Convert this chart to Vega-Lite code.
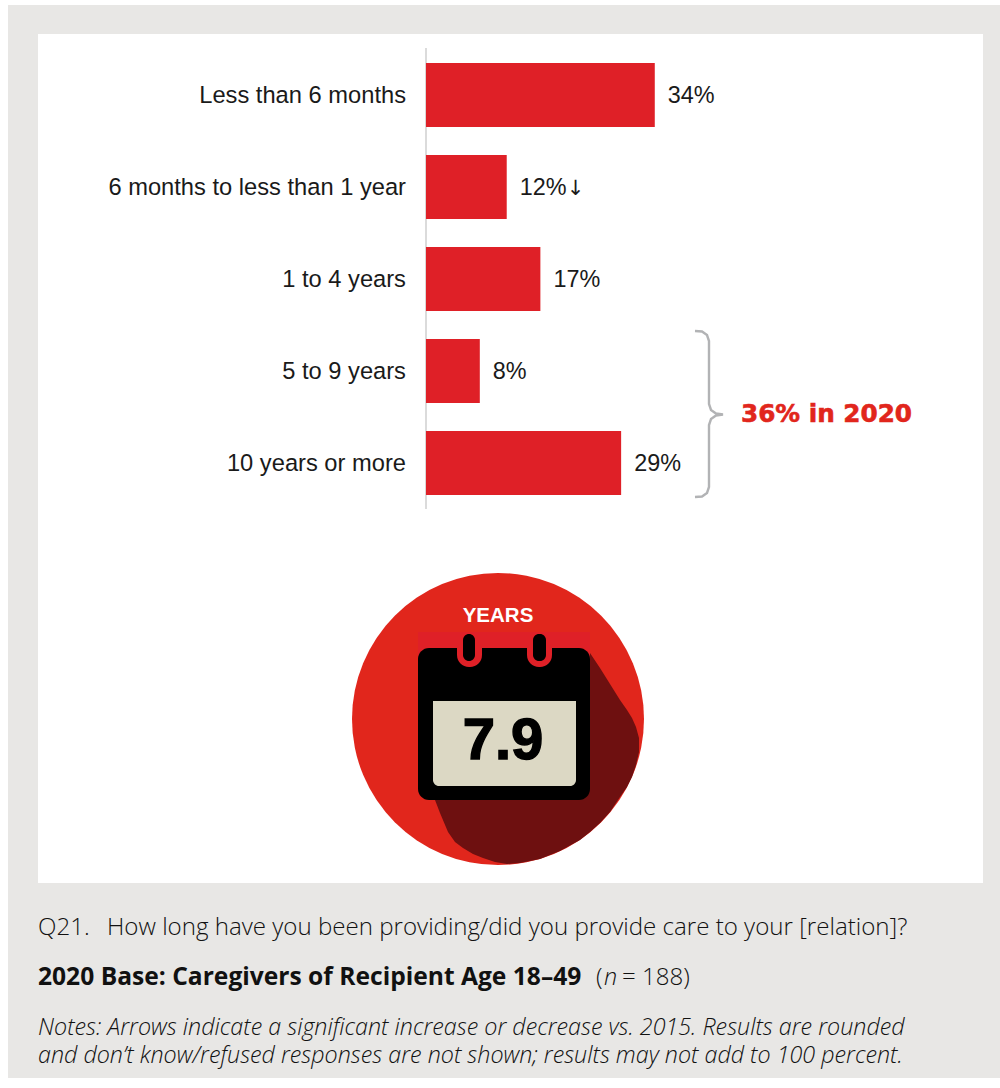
{
  "$schema": "https://vega.github.io/schema/vega-lite/v6.json",
  "width": 1000,
  "height": 1088,
  "padding": 0,
  "autosize": {"type": "none"},
  "background": "#ffffff",
  "config": {"view": {"stroke": null}},
  "resolve": {"scale": {"x": "independent", "y": "independent"}, "axis": {"x": "independent", "y": "independent"}},
  "layer": [
    {
      "encoding": {
        "x": {"field": "x", "type": "quantitative", "scale": {"domain": [0, 1000]}, "axis": null},
        "y": {"field": "y", "type": "quantitative", "scale": {"domain": [1088, 0]}, "axis": null}
      },
      "layer": [
        {
          "data": {"values": [{"x": 8, "x1": 1000, "y": 5, "y1": 1078, "c": "panel"}, {"x": 38, "x1": 983, "y": 34, "y1": 883, "c": "card"}]},
          "mark": {"type": "rect"},
          "encoding": {
            "x2": {"field": "x1"},
            "y2": {"field": "y1"},
            "color": {"field": "c", "type": "nominal", "scale": {"domain": ["panel", "card"], "range": ["#e8e7e5", "#ffffff"]}, "legend": null}
          }
        },
        {
          "data": {"values": [{"x": 426, "y": 48, "y1": 509}]},
          "mark": {"type": "rule", "color": "#cfcfcf", "strokeWidth": 1.5},
          "encoding": {"y2": {"field": "y1"}}
        },
        {
          "data": {"values": [{"x": 498, "y": 719}]},
          "mark": {"type": "point", "shape": "circle", "filled": true, "size": 85264, "color": "#e1261c", "opacity": 1}
        },
        {
          "data": {"values": [
            {"x": 435, "y": 720, "y1": 800}, {"x": 440, "y": 720, "y1": 813}, {"x": 448, "y": 720, "y1": 832},
            {"x": 455, "y": 720, "y1": 842}, {"x": 463, "y": 720, "y1": 848}, {"x": 473, "y": 720, "y1": 854},
            {"x": 483, "y": 720, "y1": 858}, {"x": 495, "y": 720, "y1": 862}, {"x": 507, "y": 720, "y1": 864},
            {"x": 520, "y": 720, "y1": 863}, {"x": 540, "y": 720, "y1": 859}, {"x": 560, "y": 720, "y1": 851},
            {"x": 580, "y": 720, "y1": 840}, {"x": 590, "y": 653, "y1": 832}, {"x": 600, "y": 668, "y1": 823},
            {"x": 610, "y": 684, "y1": 812}, {"x": 620, "y": 700, "y1": 797}, {"x": 627, "y": 710, "y1": 787},
            {"x": 632, "y": 718, "y1": 777}, {"x": 636, "y": 727, "y1": 765}, {"x": 639, "y": 738, "y1": 752}
          ]},
          "mark": {"type": "area", "color": "#6e1010", "opacity": 1},
          "encoding": {"y2": {"field": "y1"}}
        },
        {
          "data": {"values": [{"x": 418, "x1": 590, "y": 632, "y1": 660}]},
          "mark": {"type": "rect", "color": "#df2027"},
          "encoding": {"x2": {"field": "x1"}, "y2": {"field": "y1"}}
        },
        {
          "data": {"values": [{"x": 418, "x1": 590, "y": 648, "y1": 800}]},
          "mark": {"type": "rect", "color": "#000000", "cornerRadius": 11},
          "encoding": {"x2": {"field": "x1"}, "y2": {"field": "y1"}}
        },
        {
          "data": {"values": [{"x": 457, "x1": 482, "y": 640, "y1": 667}, {"x": 527, "x1": 552, "y": 640, "y1": 667}]},
          "mark": {"type": "rect", "color": "#df2027", "cornerRadiusBottomLeft": 12, "cornerRadiusBottomRight": 12},
          "encoding": {"x2": {"field": "x1"}, "y2": {"field": "y1"}}
        },
        {
          "data": {"values": [{"x": 463, "x1": 475, "y": 634, "y1": 661}, {"x": 533, "x1": 546, "y": 634, "y1": 661}]},
          "mark": {"type": "rect", "color": "#000000", "cornerRadius": 6},
          "encoding": {"x2": {"field": "x1"}, "y2": {"field": "y1"}}
        },
        {
          "data": {"values": [{"x": 433, "x1": 576, "y": 701, "y1": 786}]},
          "mark": {"type": "rect", "color": "#dcd8c4", "cornerRadiusBottomLeft": 6, "cornerRadiusBottomRight": 6},
          "encoding": {"x2": {"field": "x1"}, "y2": {"field": "y1"}}
        },
        {
          "data": {"values": [{"x": 498, "y": 616, "t": "YEARS"}]},
          "mark": {"type": "text", "font": "Liberation Sans", "fontWeight": "bold", "fontSize": 20.5, "color": "#ffffff", "align": "center", "baseline": "middle"},
          "encoding": {"text": {"field": "t"}}
        },
        {
          "data": {"values": [{"x": 503, "y": 742, "t": "7.9"}]},
          "mark": {"type": "text", "font": "Liberation Sans", "fontWeight": "bold", "fontSize": 58, "color": "#000000", "stroke": "#000000", "strokeWidth": 1.4, "align": "center", "baseline": "middle"},
          "encoding": {"text": {"field": "t"}}
        },
        {
          "data": {"values": [
            {"i": 1, "x": 695, "y": 331}, {"i": 2, "x": 702, "y": 331.5}, {"i": 3, "x": 707, "y": 335}, {"i": 4, "x": 709, "y": 341},
            {"i": 5, "x": 709, "y": 404}, {"i": 6, "x": 711, "y": 410}, {"i": 7, "x": 716, "y": 413.5}, {"i": 8, "x": 723, "y": 414.5},
            {"i": 9, "x": 716, "y": 415.5}, {"i": 10, "x": 711, "y": 419}, {"i": 11, "x": 709, "y": 425},
            {"i": 12, "x": 709, "y": 487}, {"i": 13, "x": 707, "y": 493}, {"i": 14, "x": 702, "y": 496.5}, {"i": 15, "x": 695, "y": 497}
          ]},
          "mark": {"type": "line", "color": "#b2b3b5", "strokeWidth": 2.4},
          "encoding": {"order": {"field": "i", "type": "quantitative"}}
        },
        {
          "data": {"values": [{"x": 741, "y": 415, "t": "36% in 2020"}]},
          "mark": {"type": "text", "font": "DejaVu Sans", "fontWeight": "bold", "fontSize": 24.7, "color": "#e1261c", "stroke": "#e1261c", "strokeWidth": 0.6, "align": "left", "baseline": "middle"},
          "encoding": {"text": {"field": "t"}}
        },
        {
          "data": {"values": [{"x": 38, "y": 928, "t": "Q21."}, {"x": 107, "y": 928, "t": "How long have you been providing/did you provide care to your [relation]?"}, {"x": 596, "y": 978, "t": "("}, {"x": 622, "y": 978, "t": "= 188)"}]},
          "mark": {"type": "text", "font": "Open Sans", "fontWeight": 300, "fontSize": 24.1, "color": "#111111", "align": "left", "baseline": "middle"},
          "encoding": {"text": {"field": "t"}}
        },
        {
          "data": {"values": [{"x": 38, "y": 978, "t": "2020 Base: Caregivers of Recipient Age 18–49"}]},
          "mark": {"type": "text", "font": "Open Sans", "fontWeight": "bold", "fontSize": 24.6, "color": "#111111", "align": "left", "baseline": "middle"},
          "encoding": {"text": {"field": "t"}}
        },
        {
          "data": {"values": [{"x": 604, "y": 978, "t": "n"}, {"x": 38, "y": 1028, "t": "Notes: Arrows indicate a significant increase or decrease vs. 2015. Results are rounded"}, {"x": 38, "y": 1056, "t": "and don’t know/refused responses are not shown; results may not add to 100 percent."}]},
          "mark": {"type": "text", "font": "Open Sans", "fontStyle": "italic", "fontWeight": 300, "fontSize": 23.3, "color": "#111111", "align": "left", "baseline": "middle"},
          "encoding": {"text": {"field": "t"}}
        }
      ]
    },
    {
      "data": {"values": [
        {"duration": "Less than 6 months", "share": 34, "label": "34%"},
        {"duration": "6 months to less than 1 year", "share": 12, "label": "12%", "trend": "↓"},
        {"duration": "1 to 4 years", "share": 17, "label": "17%"},
        {"duration": "5 to 9 years", "share": 8, "label": "8%"},
        {"duration": "10 years or more", "share": 29, "label": "29%"}
      ]},
      "encoding": {
        "x": {"field": "share", "type": "quantitative", "scale": {"domain": [-63.3, 85.3]}, "axis": null},
        "y": {
          "field": "duration",
          "type": "nominal",
          "sort": null,
          "scale": {"range": [49, 509], "paddingInner": 0.304, "paddingOuter": 0.152},
          "axis": null
        }
      },
      "layer": [
        {"mark": {"type": "bar", "color": "#df2027"}},
        {
          "mark": {"type": "text", "font": "Liberation Sans", "fontSize": 23.7, "color": "#1a1a1a", "align": "right", "baseline": "middle", "dx": -20, "dy": 1},
          "encoding": {"x": {"datum": 0}, "text": {"field": "duration"}}
        },
        {
          "mark": {"type": "text", "font": "Liberation Sans", "fontSize": 23.4, "color": "#1a1a1a", "align": "left", "baseline": "middle", "dx": 13, "dy": 1},
          "encoding": {"text": {"field": "label"}}
        },
        {
          "transform": [{"filter": "isValid(datum.trend)"}],
          "mark": {"type": "text", "font": "DejaVu Sans", "fontSize": 21, "color": "#1a1a1a", "align": "left", "baseline": "middle", "dx": 60, "dy": 2},
          "encoding": {"text": {"field": "trend"}}
        }
      ]
    }
  ]
}
